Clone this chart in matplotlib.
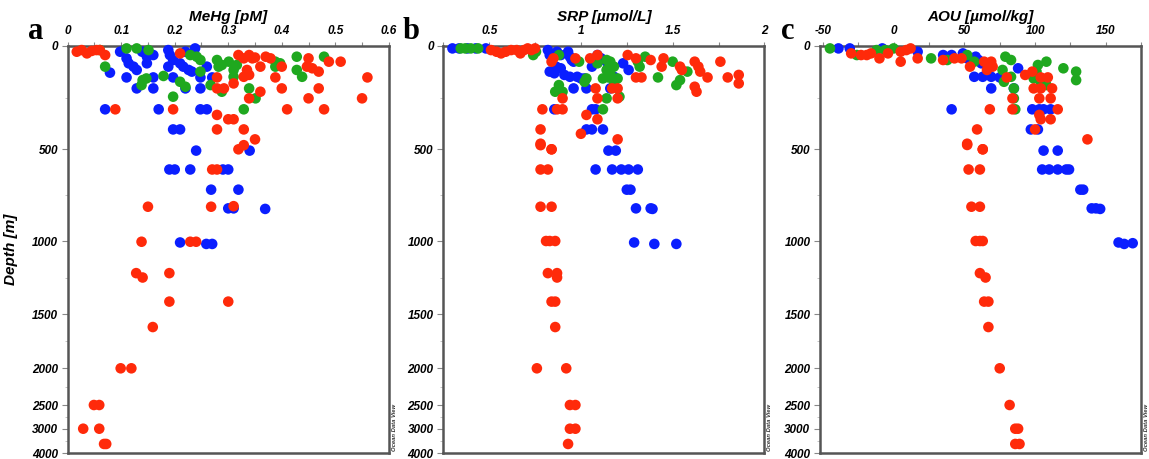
import numpy as np
import matplotlib
matplotlib.use("Agg")
import matplotlib.pyplot as plt

# ---- data ----
# panel a: MeHg [pM] vs depth [m]
mehg_blue_x = [0.098, 0.11, 0.114, 0.123, 0.129, 0.079, 0.11, 0.129, 0.139, 0.148, 0.16, 0.148, 0.16, 0.16,
               0.188, 0.191, 0.197, 0.21, 0.216, 0.226, 0.232, 0.188, 0.197, 0.22, 0.238, 0.22, 0.248, 0.248,
               0.26, 0.27, 0.07, 0.17, 0.248, 0.26, 0.197, 0.21, 0.24, 0.34,
               0.19, 0.2, 0.229, 0.29, 0.3, 0.268, 0.319, 0.3, 0.31, 0.369, 0.21, 0.259, 0.27]
mehg_blue_d = [29, 61, 85, 101, 117, 130, 153, 206, 29, 53, 45, 85, 153, 206,
               21, 45, 69, 85, 101, 117, 125, 101, 153, 206, 13, 29, 206, 153,
               101, 153, 307, 307, 307, 307, 404, 404, 507, 507,
               610, 610, 610, 610, 610, 720, 720, 822, 822, 825, 1010, 1020, 1020]
mehg_green_x = [0.06, 0.07, 0.11, 0.129, 0.151, 0.14, 0.138, 0.147, 0.179, 0.197, 0.21, 0.22, 0.229, 0.241,
                0.248, 0.248, 0.267, 0.279, 0.282, 0.288, 0.301, 0.288, 0.31, 0.316, 0.31, 0.329, 0.339,
                0.351, 0.388, 0.397, 0.388, 0.428, 0.428, 0.438, 0.479]
mehg_green_d = [21, 101, 13, 13, 21, 166, 190, 158, 146, 246, 174, 198, 45, 53,
                69, 125, 190, 69, 101, 93, 77, 222, 117, 93, 150, 307, 206,
                254, 77, 85, 101, 53, 117, 150, 53]
mehg_red_x = [0.017, 0.026, 0.036, 0.045, 0.054, 0.06, 0.07, 0.21, 0.279, 0.279, 0.292, 0.197, 0.089, 0.31,
              0.279, 0.3, 0.31, 0.279, 0.319, 0.329, 0.339, 0.345, 0.35, 0.335, 0.329, 0.339, 0.36, 0.36,
              0.339, 0.329, 0.35, 0.319, 0.329, 0.37, 0.379, 0.388, 0.4, 0.4, 0.41, 0.45, 0.447, 0.457,
              0.469, 0.45, 0.469, 0.479, 0.488, 0.51, 0.56, 0.55,
              0.27, 0.279, 0.15, 0.268, 0.31, 0.138, 0.229, 0.24, 0.128, 0.14, 0.19, 0.19, 0.3, 0.159,
              0.099, 0.119, 0.049, 0.059, 0.029, 0.059, 0.068, 0.072]
mehg_red_d = [29, 21, 37, 25, 21, 21, 45, 37, 153, 206, 206, 307, 307, 182,
              334, 355, 355, 404, 45, 61, 45, 61, 57, 117, 150, 141, 101, 222,
              254, 404, 452, 500, 480, 53, 61, 153, 101, 206, 307, 61, 101, 109,
              125, 254, 206, 307, 77, 77, 153, 254,
              610, 610, 813, 813, 810, 1005, 1005, 1005, 1220, 1250, 1220, 1415, 1415, 1620,
              2000, 2000, 2500, 2500, 3000, 3000, 3620, 3620]

# panel b: SRP [umol/L] vs depth [m]
srp_blue_x = [0.3, 0.336, 0.382, 0.427, 0.482, 0.82, 0.83, 0.87, 0.89, 0.93, 0.94, 0.95, 0.96,
              0.83, 0.855, 0.865, 0.89, 0.91, 0.94, 0.98, 1.0, 1.02, 0.96, 1.03, 1.06, 1.09, 1.11, 1.14,
              1.17, 1.18, 1.23, 1.26, 1.16, 0.855, 1.06, 1.08, 1.03, 1.06, 1.12, 1.15, 1.19,
              1.08, 1.17, 1.22, 1.26, 1.31, 1.25, 1.27, 1.3, 1.38, 1.39, 1.29, 1.4, 1.52]
srp_blue_d = [13, 13, 13, 13, 13, 21, 45, 29, 45, 29, 53, 69, 77,
              125, 133, 101, 109, 141, 150, 150, 158, 158, 206, 206, 101, 45, 61, 77,
              101, 150, 85, 117, 206, 307, 307, 307, 404, 404, 404, 507, 507,
              610, 610, 610, 610, 610, 720, 720, 822, 822, 825, 1010, 1020, 1020]
srp_green_x = [0.345, 0.37, 0.4, 0.44, 0.755, 0.74, 0.88, 0.99, 1.03, 1.02, 0.88, 0.86, 0.9,
               1.09, 1.14, 1.16, 1.18, 1.14, 1.16, 1.2, 1.18, 1.15, 1.12, 1.21, 1.14, 1.12,
               1.31, 1.32, 1.35, 1.42, 1.5, 1.54, 1.52, 1.58]
srp_green_d = [13, 13, 13, 13, 29, 45, 45, 77, 158, 174, 190, 222, 222,
               85, 69, 77, 101, 117, 133, 158, 174, 153, 158, 246, 254, 307,
               77, 101, 53, 153, 77, 166, 190, 125]
srp_red_x = [0.51, 0.54, 0.565, 0.59, 0.62, 0.65, 0.67, 0.69, 0.71, 0.73, 0.75, 0.84, 0.85, 0.97,
             1.05, 1.09, 0.9, 0.79, 0.87, 0.9, 0.78, 0.78, 0.84, 1.0, 1.03, 1.09, 1.09, 1.08, 1.17,
             1.2, 1.2, 1.2, 1.255, 1.3, 1.3, 1.33, 1.38, 1.44, 1.45, 1.54, 1.55, 1.62, 1.64, 1.65,
             1.62, 1.63, 1.69, 1.76, 1.8, 1.86, 1.86,
             0.78, 0.84, 0.78, 0.82, 0.78, 0.84, 0.81, 0.83, 0.86, 0.82, 0.87, 0.87, 0.84, 0.86, 0.86,
             0.76, 0.92, 0.94, 0.97, 0.94, 0.97, 0.93]
srp_red_d = [21, 29, 37, 29, 21, 21, 37, 21, 13, 21, 13, 77, 61, 61,
             61, 45, 254, 307, 307, 307, 404, 480, 500, 425, 334, 355, 254, 206, 206,
             206, 254, 452, 45, 61, 153, 153, 69, 101, 61, 101, 117, 77, 101, 125,
             198, 222, 153, 77, 153, 141, 182,
             473, 500, 610, 610, 813, 813, 1000, 1000, 1000, 1220, 1220, 1250, 1415, 1415, 1620,
             2000, 2000, 2500, 2500, 3000, 3000, 3620]

# panel c: AOU [umol/kg] vs depth [m]
aou_blue_x = [-39, -31, -8, 17, 35, 41, 49, 52, 58, 60, 62, 66, 57, 63, 69, 75, 69, 88, 85, 41,
              98, 103, 106, 111, 97, 102, 106, 116,
              105, 110, 116, 122, 124, 132, 134, 140, 143, 146, 159, 163, 169]
aou_blue_d = [13, 13, 13, 29, 45, 45, 37, 61, 53, 69, 85, 85, 150, 150, 150, 153, 206, 109, 206, 307,
              307, 307, 307, 307, 404, 404, 507, 507,
              610, 610, 610, 610, 610, 720, 720, 822, 822, 825, 1010, 1020, 1015]
aou_green_x = [-45, -26, -12, -6, 0, 26.5, 38, 52, 57, 79, 83, 77, 78, 83, 85, 85, 86,
               99, 102, 101, 108, 104, 108, 120, 129, 129]
aou_green_d = [13, 45, 21, 21, 13, 61, 69, 45, 77, 53, 69, 117, 174, 150, 206, 254, 307,
               158, 93, 125, 77, 174, 190, 109, 125, 166]
aou_red_x = [-30, -23, -19, -16, -10, -4, 5, 9, 12, 5, 17, 35, 43, 48, 54, 64, 69, 70, 66,
             80, 84, 84, 68, 59, 52, 63, 93, 98, 99, 103, 104, 112, 111, 104, 109, 116, 103, 104,
             111, 100, 137,
             52, 63, 53, 61, 55, 61, 58, 61, 63, 61, 65, 64, 67, 67, 75, 82, 86, 88, 86, 89]
aou_red_d = [37, 45, 45, 37, 61, 37, 29, 21, 13, 77, 61, 69, 61, 61, 101, 77, 77, 101, 117,
             153, 254, 307, 307, 404, 479, 500, 141, 125, 206, 254, 206, 206, 254, 153, 153, 307, 334, 355,
             355, 404, 452,
             473, 500, 610, 610, 813, 813, 1000, 1000, 1000, 1220, 1250, 1415, 1415, 1620, 2000, 2500,
             3000, 3000, 3620, 3620]

depth_ticks = [0, 500, 1000, 1500, 2000, 2500, 3000, 4000]

# ODV style non-linear depth axis (knots of the scale)
scale_depth = np.array([0, 500, 1000, 1500, 2000, 2500, 3000, 4000], dtype=float)
scale_pos = np.array([45.7, 149.3, 241, 314, 368.3, 405, 428.7, 453.3])
scale_pos = (scale_pos - scale_pos[0]) / (scale_pos[-1] - scale_pos[0])


def fwd(d):
    return np.interp(d, scale_depth, scale_pos)


def inv(p):
    return np.interp(p, scale_pos, scale_depth)


RED = "#ff2a0a"
BLUE = "#0a1eff"
GREEN = "#1fa81f"
FONT = "Liberation Sans"

fig = plt.figure(figsize=(11.49, 4.59), dpi=100)

panels = [
    ("a", "MeHg [pM]", (0, 0.6), [0, 0.1, 0.2, 0.3, 0.4, 0.5, 0.6], ["0", "0.1", "0.2", "0.3", "0.4", "0.5", "0.6"],
     (mehg_blue_x, mehg_blue_d), (mehg_green_x, mehg_green_d), (mehg_red_x, mehg_red_d), 0.0589, 0.05),
    ("b", "SRP [µmol/L]", (0.25, 2.0), [0.5, 1, 1.5, 2], ["0.5", "1", "1.5", "2"],
     (srp_blue_x, srp_blue_d), (srp_green_x, srp_green_d), (srp_red_x, srp_red_d), 0.3858, 0.25),
    ("c", "AOU [µmol/kg]", (-52, 175), [-50, 0, 50, 100, 150], ["-50", "0", "50", "100", "150"],
     (aou_blue_x, aou_blue_d), (aou_green_x, aou_green_d), (aou_red_x, aou_red_d), 0.7137, 25),
]

for letter, title, xlim, xt, xtl, blue, green, red, left, minor_step in panels:
    ax = fig.add_axes([left, 0.0124, 0.2795, 0.888])
    ax.set_yscale("function", functions=(fwd, inv))
    for (xs, ds), c in [(blue, BLUE), (green, GREEN), (red, RED)]:
        ax.scatter(xs, ds, s=58, color=c, edgecolors="none", zorder=3, clip_on=False)
    ax.set_xlim(*xlim)
    ax.set_ylim(4000, 0)
    ax.xaxis.tick_top()
    ax.xaxis.set_label_position("top")
    ax.set_xticks(xt)
    ax.set_xticks(np.arange(xt[0] - minor_step, xlim[1] + 1e-9, minor_step), minor=True)
    ax.set_xlim(*xlim)
    ax.set_xticklabels(xtl, fontsize=8.5, fontweight="bold", fontstyle="italic", family=FONT)
    ax.set_yticks(depth_ticks)
    ax.set_yticklabels([str(t) for t in depth_ticks], fontsize=8.5, fontweight="bold",
                       fontstyle="italic", family=FONT)
    ax.set_yticks([250, 750, 1250, 1750, 2250, 2750, 3500], minor=True)
    ax.tick_params(axis="x", which="both", length=3, width=0.8, color="#888888", pad=3)
    ax.tick_params(axis="y", which="major", length=4, width=0.8, color="#888888", pad=3)
    ax.tick_params(axis="y", which="minor", length=2, width=0.6, color="#bbbbbb")
    ax.set_xlabel(title, fontsize=11, fontweight="bold", fontstyle="italic", family=FONT, labelpad=3)
    for sp in ax.spines.values():
        sp.set_color("#555555")
        sp.set_linewidth(1.8)
    ax.text(-0.1, 1.0, letter, transform=ax.transAxes, fontsize=22, fontweight="bold",
            family="Liberation Serif", ha="center", va="bottom")
    ax.text(1.009, 0.005, "Ocean Data View", transform=ax.transAxes, rotation=90,
            fontsize=4.2, fontstyle="italic", fontweight="bold", family=FONT, ha="left", va="bottom",
            color="#333333")
    if letter == "a":
        ax.set_ylabel("Depth [m]", fontsize=11, fontweight="bold", fontstyle="italic", family=FONT,
                      labelpad=10)

fig.savefig("out.png", dpi=100)
